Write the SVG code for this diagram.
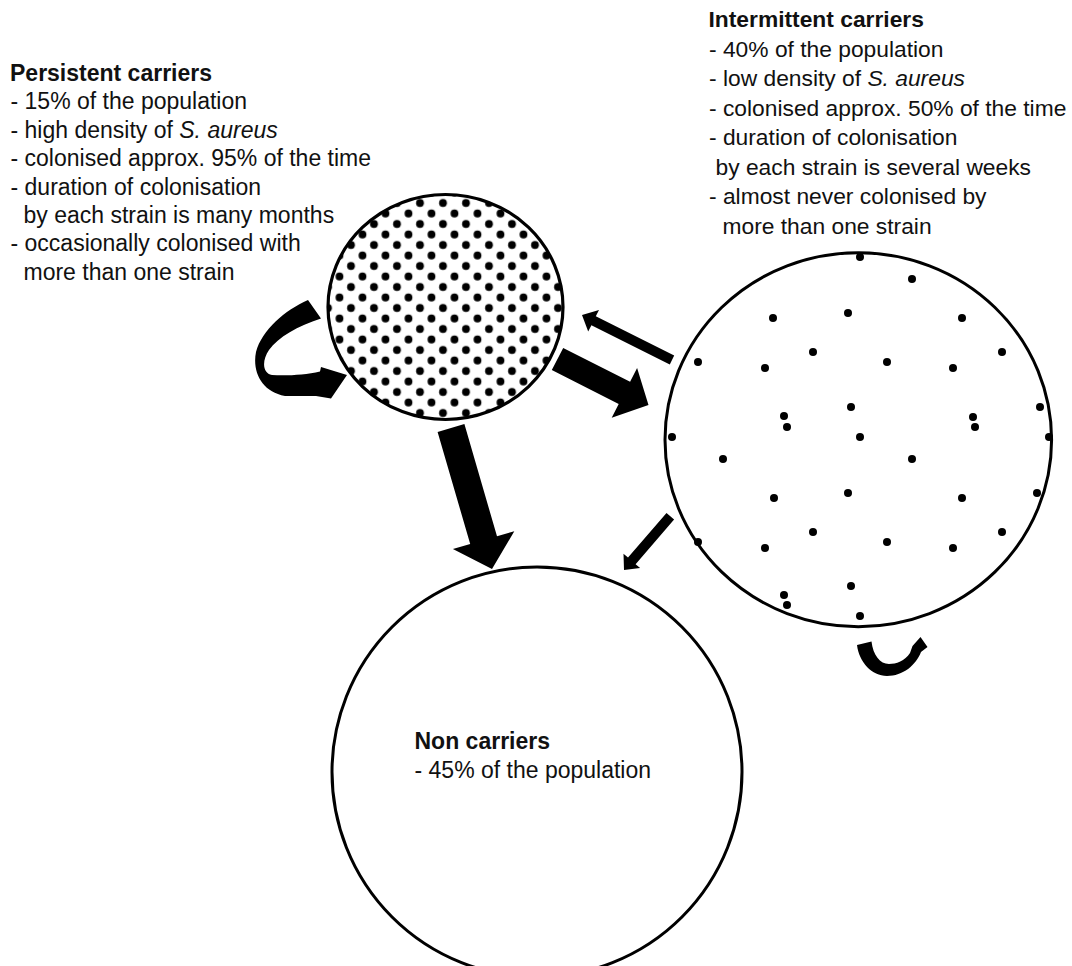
<svg xmlns="http://www.w3.org/2000/svg" width="1072" height="966" viewBox="0 0 1072 966">
<style>
  .t{font-family:"Liberation Sans",Arial,Helvetica,sans-serif;font-size:23px;fill:#111}
  .tr{font-size:22.8px}
  .b{font-weight:bold}
  .i{font-style:italic}
  .node{fill:#fff;stroke:#000;stroke-width:3}
  .edge{fill:none;stroke:#000;stroke-width:3.2}
  .arrow{fill:#000;stroke:none}
  .dot{fill:#000}
</style>
<defs>
  <pattern id="dense" patternUnits="userSpaceOnUse" x="437.25" y="197.75" width="23" height="21">
    <circle cx="5.75" cy="5.25" r="3.9" fill="#000"/>
    <circle cx="17.25" cy="15.75" r="3.9" fill="#000"/>
  </pattern>
</defs>
<rect width="1072" height="966" fill="#fff"/>

<g id="noncarriers">
  <circle class="node" cx="537" cy="772" r="205"/>
  <text class="t b" x="414.5" y="749.3">Non carriers</text>
  <text class="t" x="414.5" y="778.3">- 45% of the population</text>
</g>

<g id="intermittent">
  <ellipse class="node" cx="858.3" cy="439.7" rx="193.3" ry="187"/>
  <g class="dot">
    <circle cx="860" cy="257" r="4"/><circle cx="912" cy="279" r="4"/><circle cx="773" cy="318" r="4"/>
    <circle cx="848" cy="313" r="4"/><circle cx="962" cy="318" r="4"/><circle cx="813" cy="352" r="4"/>
    <circle cx="1002" cy="352" r="4"/><circle cx="698" cy="362" r="4"/><circle cx="887" cy="362" r="4"/>
    <circle cx="765" cy="368" r="4"/><circle cx="953" cy="368" r="4"/><circle cx="851" cy="407" r="4"/>
    <circle cx="1040" cy="407" r="4"/><circle cx="784" cy="416" r="4"/><circle cx="787" cy="427" r="4"/>
    <circle cx="973" cy="417" r="4"/><circle cx="975" cy="427" r="4"/><circle cx="672" cy="437" r="4"/>
    <circle cx="860" cy="437" r="4"/><circle cx="1049" cy="437" r="4"/><circle cx="723" cy="459" r="4"/>
    <circle cx="912" cy="459" r="4"/><circle cx="774" cy="498" r="4"/><circle cx="848" cy="493" r="4"/>
    <circle cx="962" cy="498" r="4"/><circle cx="1037" cy="493" r="4"/><circle cx="813" cy="532" r="4"/>
    <circle cx="1002" cy="532" r="4"/><circle cx="698" cy="542" r="4"/><circle cx="887" cy="542" r="4"/>
    <circle cx="765" cy="548" r="4"/><circle cx="953" cy="548" r="4"/><circle cx="851" cy="586" r="4"/>
    <circle cx="784" cy="595" r="4"/><circle cx="787" cy="605" r="4"/><circle cx="860" cy="616" r="4"/>
  </g>
  <text class="t tr b" x="708.5" y="27.3">Intermittent carriers</text>
  <text class="t tr" x="709" y="56.8">- 40% of the population</text>
  <text class="t tr" x="709" y="86.2">- low density of <tspan class="i">S. aureus</tspan></text>
  <text class="t tr" x="709" y="115.7">- colonised approx. 50% of the time</text>
  <text class="t tr" x="709" y="145.1">- duration of colonisation</text>
  <text class="t tr" x="715.5" y="174.6">by each strain is several weeks</text>
  <text class="t tr" x="709" y="204">- almost never colonised by</text>
  <text class="t tr" x="722.5" y="233.5">more than one strain</text>
</g>

<g id="persistent">
  <ellipse cx="445.5" cy="307" rx="117.5" ry="112.5" fill="#fff"/>
  <ellipse cx="445.5" cy="307" rx="117.5" ry="112.5" fill="url(#dense)"/>
  <ellipse class="edge" cx="445.5" cy="307" rx="117.5" ry="112.5"/>
  <text class="t b" x="10" y="81">Persistent carriers</text>
  <text class="t" x="10.5" y="109.4">- 15% of the population</text>
  <text class="t" x="10.5" y="137.8">- high density of <tspan class="i">S. aureus</tspan></text>
  <text class="t" x="10.5" y="166.2">- colonised approx. 95% of the time</text>
  <text class="t" x="10.5" y="194.6">- duration of colonisation</text>
  <text class="t" x="23.5" y="223">by each strain is many months</text>
  <text class="t" x="10.5" y="251.4">- occasionally colonised with</text>
  <text class="t" x="23.5" y="279.8">more than one strain</text>
</g>

<g id="connectors">
  <!-- persistent -> non carriers -->
  <polygon class="arrow" points="437.6,431.9 470.2,544.1 452.9,549.1 492,569 514.3,531.3 497.0,536.3 464.4,424.1"/>
  <!-- persistent -> intermittent -->
  <polygon class="arrow" points="551.8,370.1 618.7,403.9 611.7,417.7 648.5,405 637.1,367.9 630.1,381.7 563.2,347.9"/>
  <!-- intermittent -> persistent -->
  <polygon class="arrow" points="674.2,355.5 595.8,316.3 599.0,310.1 582,315 588.2,331.5 591.4,325.3 669.8,364.5"/>
  <!-- intermittent -> non carriers -->
  <polygon class="arrow" points="666.5,513.0 628.0,557.6 623.5,553.7 624,570 640.1,568.1 635.6,564.2 674.1,519.6"/>
  <!-- persistent self loop -->
  <path class="arrow" d="M 308 300 C 285 310, 262 330, 256 352 C 252 372, 262 392, 285 396 L 316 396 L 331 398.5 L 347 375 L 321 367 L 320 371.5 C 305 375, 285 376, 272 375 C 262 373, 262 360, 269 350 C 278 337, 298 326, 321 318.5 Z"/>
  <!-- intermittent self loop -->
  <path class="arrow" d="M 857 645 C 859 662, 872 676, 887 676 C 903 676, 916 665, 921 652 L 927.5 647 L 920.5 637 L 912.5 646 L 910 653 C 905 661, 896 664, 889 664 C 880 664, 873 655, 871.5 641.5 Z"/>
</g>
</svg>
